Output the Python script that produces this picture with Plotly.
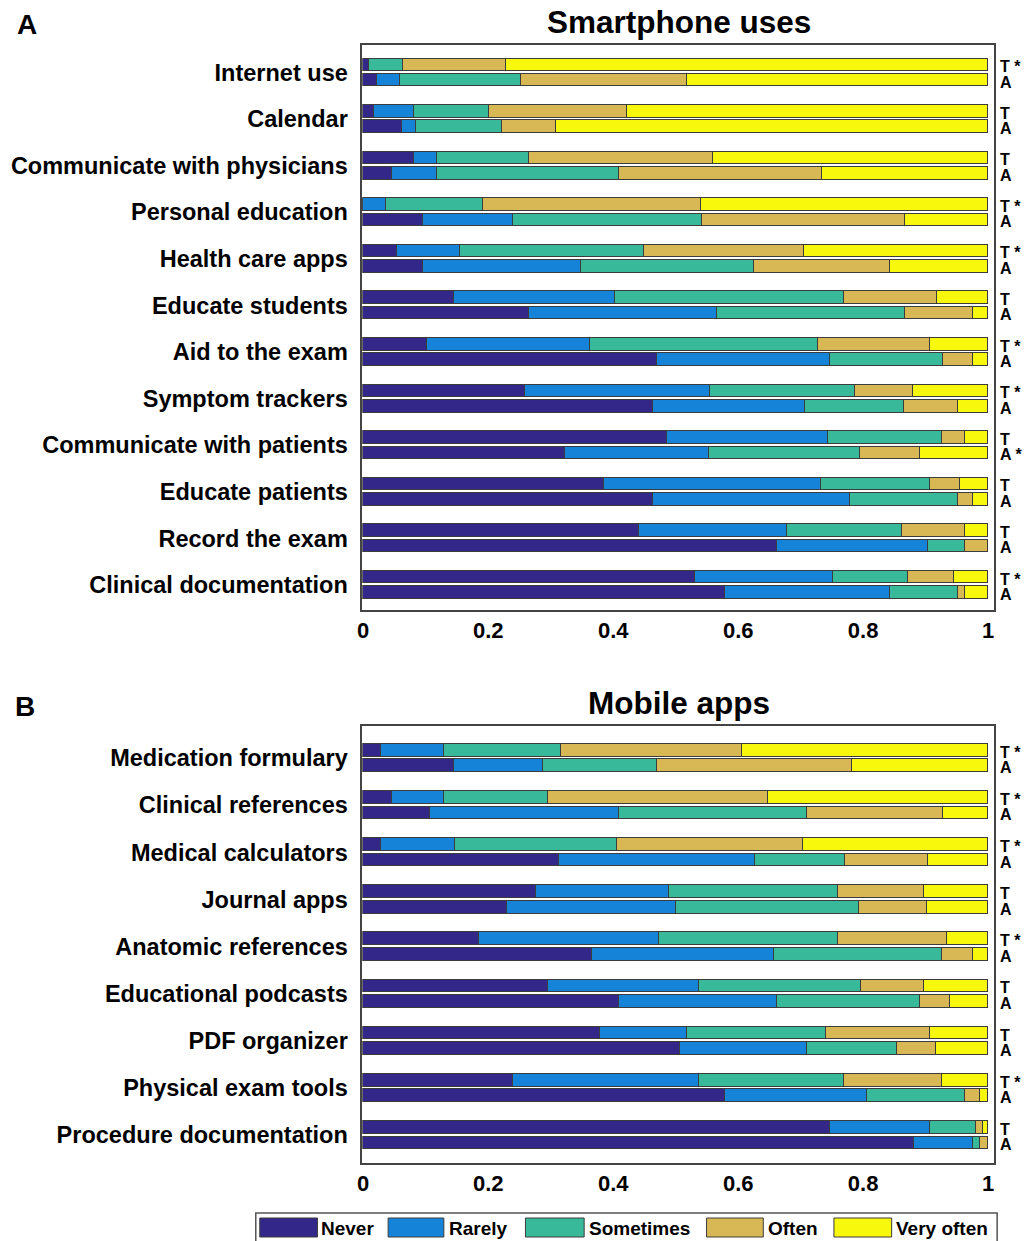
import numpy as np
import plotly.graph_objects as go

W, H = 1025, 1241

levels = ["Never", "Rarely", "Sometimes", "Often", "Very often"]
colors = ["#33288a", "#1584d8", "#38b99a", "#d8b855", "#f7f80c"]
tick_vals = [0, 0.2, 0.4, 0.6, 0.8, 1]
tick_text = ["0", "0.2", "0.4", "0.6", "0.8", "1"]

# ---- Panel A: Smartphone uses ----
smart_cats = ["Internet use", "Calendar", "Communicate with physicians", "Personal education",
              "Health care apps", "Educate students", "Aid to the exam", "Symptom trackers",
              "Communicate with patients", "Educate patients", "Record the exam",
              "Clinical documentation"]
# cumulative upper bounds of Never, Rarely, Sometimes, Often (rest = Very often)
smart_T_cum = [[0.009, 0.009, 0.064, 0.229], [0.018, 0.082, 0.201, 0.422],
               [0.082, 0.118, 0.266, 0.560], [0.000, 0.036, 0.192, 0.541],
               [0.055, 0.155, 0.449, 0.706], [0.146, 0.403, 0.770, 0.918],
               [0.102, 0.364, 0.728, 0.907], [0.259, 0.555, 0.787, 0.880],
               [0.486, 0.744, 0.927, 0.964], [0.386, 0.733, 0.908, 0.955],
               [0.441, 0.679, 0.862, 0.964], [0.532, 0.752, 0.872, 0.945]]
smart_A_cum = [[0.023, 0.059, 0.253, 0.518], [0.062, 0.085, 0.222, 0.309],
               [0.047, 0.119, 0.409, 0.735], [0.096, 0.240, 0.542, 0.868],
               [0.096, 0.349, 0.626, 0.844], [0.265, 0.566, 0.868, 0.976],
               [0.470, 0.747, 0.928, 0.976], [0.464, 0.708, 0.866, 0.952],
               [0.324, 0.554, 0.795, 0.891], [0.464, 0.780, 0.952, 0.976],
               [0.662, 0.904, 0.964, 1.000], [0.579, 0.843, 0.952, 0.964]]
smart_T_lbl = ["T *", "T", "T", "T *", "T *", "T", "T *", "T *", "T", "T", "T", "T *"]
smart_A_lbl = ["A", "A", "A", "A", "A", "A", "A", "A", "A *", "A", "A", "A"]

# ---- Panel B: Mobile apps ----
app_cats = ["Medication formulary", "Clinical references", "Medical calculators", "Journal apps",
            "Anatomic references", "Educational podcasts", "PDF organizer",
            "Physical exam tools", "Procedure documentation"]
app_T_cum = [[0.028, 0.130, 0.317, 0.607], [0.046, 0.130, 0.296, 0.648],
             [0.028, 0.148, 0.407, 0.704], [0.277, 0.490, 0.760, 0.898],
             [0.185, 0.473, 0.760, 0.935], [0.296, 0.537, 0.797, 0.898],
             [0.380, 0.518, 0.741, 0.908], [0.240, 0.537, 0.769, 0.927],
             [0.747, 0.907, 0.981, 0.992]]
app_A_cum = [[0.145, 0.288, 0.470, 0.783], [0.108, 0.409, 0.711, 0.928],
             [0.314, 0.627, 0.771, 0.904], [0.231, 0.501, 0.794, 0.903],
             [0.366, 0.658, 0.927, 0.976], [0.410, 0.662, 0.892, 0.940],
             [0.507, 0.711, 0.855, 0.917], [0.579, 0.807, 0.964, 0.988],
             [0.881, 0.976, 0.988, 1.000]]
app_T_lbl = ["T *", "T *", "T *", "T", "T *", "T", "T", "T *", "T"]
app_A_lbl = ["A"] * 9

OFF = 0.165
BW = 0.27
FONT = "Liberation Sans, Arial, Helvetica, sans-serif"

fig = go.Figure()
annotations = []


def widths(cum):
    c = np.array(cum, dtype=float)
    n = c.shape[0]
    full = np.column_stack([np.zeros(n), c, np.ones(n)])
    return np.diff(full, axis=1)


def add_panel(cats, T_cum, A_cum, T_lbl, A_lbl, xa, ya, yref):
    n = len(cats)
    wT, wA = widths(T_cum), widths(A_cum)
    yT = [k - OFF for k in range(n)]
    yA = [k + OFF for k in range(n)]
    for j, lvl in enumerate(levels):
        fig.add_trace(go.Bar(
            x=list(wT[:, j]) + list(wA[:, j]), y=yT + yA, orientation="h", width=BW,
            marker=dict(color=colors[j], line=dict(color="#3c3c3c", width=1)),
            xaxis=xa, yaxis=ya, name=lvl, showlegend=False))
    for k in range(n):
        annotations.append(dict(x=998 / W, xref="paper", xanchor="left", y=yT[k] + 0.04, yref=yref,
                                text=T_lbl[k], showarrow=False,
                                font=dict(size=16, family=FONT, color="black", weight="bold")))
        annotations.append(dict(x=998 / W, xref="paper", xanchor="left", y=yA[k] + 0.04, yref=yref,
                                text=A_lbl[k], showarrow=False,
                                font=dict(size=16, family=FONT, color="black", weight="bold")))


add_panel(smart_cats, smart_T_cum, smart_A_cum, smart_T_lbl, smart_A_lbl, "x", "y", "y")
add_panel(app_cats, app_T_cum, app_A_cum, app_T_lbl, app_A_lbl, "x2", "y2", "y2")

xdom = [359 / W, 994 / W]
common_x = dict(range=[-0.0016, 1.0096], tickvals=tick_vals, ticktext=tick_text,
                showline=True, mirror=True, linecolor="#444", linewidth=1.5,
                showgrid=False, zeroline=False, ticks="", fixedrange=True,
                tickfont=dict(size=22, family=FONT, color="black", weight="bold"))
common_y = dict(showline=True, mirror=True, linecolor="#444", linewidth=1.5,
                showgrid=False, zeroline=False, ticks="", ticklabelstandoff=8,
                fixedrange=True,
                tickfont=dict(size=23.5, family=FONT, color="black", weight="bold"))

fig.update_layout(
    width=W, height=H, margin=dict(l=0, r=0, t=0, b=0),
    paper_bgcolor="white", plot_bgcolor="white", barmode="stack", bargap=0,
    xaxis=dict(domain=xdom, anchor="y", **common_x),
    yaxis=dict(domain=[1 - 610 / H, 1 - 45 / H], anchor="x",
               range=[len(smart_cats) - 1 + 0.54, -0.59],
               tickvals=list(range(len(smart_cats))), ticktext=smart_cats, **common_y),
    xaxis2=dict(domain=xdom, anchor="y2", **common_x),
    yaxis2=dict(domain=[1 - 1163 / H, 1 - 726 / H], anchor="x2",
                range=[len(app_cats) - 1 + 0.59, -0.68],
                tickvals=list(range(len(app_cats))), ticktext=app_cats, **common_y),
)

# titles and panel letters
for txt, xpx, ypx, size in [("Smartphone uses", 677, 22, 31.5), ("Mobile apps", 677, 703, 31.5)]:
    annotations.append(dict(x=xpx / W, y=1 - ypx / H, xref="paper", yref="paper", text=txt,
                            showarrow=False, xanchor="center", yanchor="middle",
                            font=dict(size=size, family=FONT, color="black", weight="bold")))
for txt, xpx, ypx in [("A", 10, 25), ("B", 8, 706)]:
    annotations.append(dict(x=xpx / W, y=1 - ypx / H, xref="paper", yref="paper", text=txt,
                            showarrow=False, xanchor="left", yanchor="middle",
                            font=dict(size=28, family=FONT, color="black", weight="bold")))

# legend drawn as a boxed row
shapes = [dict(type="rect", xref="paper", yref="paper", x0=252 / W, x1=997 / W,
               y0=1 - 1246 / H, y1=1 - 1213 / H, line=dict(color="#555", width=1.5),
               fillcolor="white", layer="below")]
leg_sw = [(256, 314), (385, 441), (523, 582), (705, 762), (833, 891)]
leg_tx = [316, 444, 585, 765, 893]
for j, lvl in enumerate(levels):
    shapes.append(dict(type="rect", xref="paper", yref="paper", x0=leg_sw[j][0] / W,
                       x1=leg_sw[j][1] / W, y0=1 - 1237 / H, y1=1 - 1218 / H,
                       fillcolor=colors[j], line=dict(color="#3c3c3c", width=1)))
    annotations.append(dict(x=leg_tx[j] / W, y=1 - 1228 / H, xref="paper", yref="paper",
                            text=lvl, showarrow=False, xanchor="left", yanchor="middle",
                            font=dict(size=19, family=FONT, color="black", weight="bold")))

fig.update_layout(annotations=annotations, shapes=shapes)
fig.write_html("out.html", config={"displayModeBar": False},
               post_script="document.body.style.margin='0';document.body.style.padding='0';"
                           "document.body.style.overflow='hidden';")
